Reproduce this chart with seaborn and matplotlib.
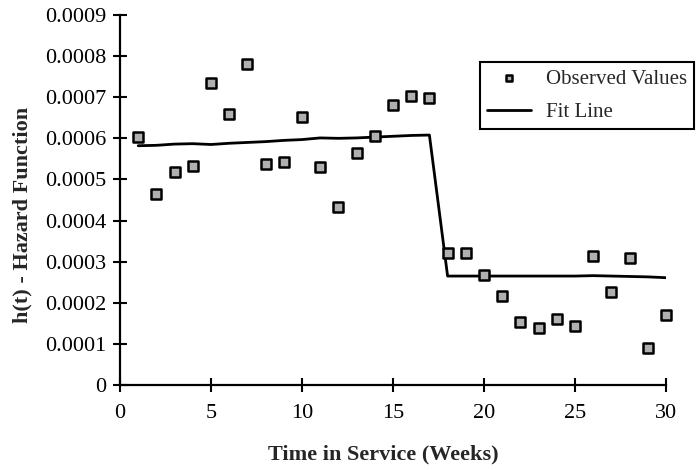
import numpy as np
import pandas as pd
import matplotlib
matplotlib.use("Agg")
import matplotlib.pyplot as plt
import seaborn as sns

weeks = list(range(1, 31))
observed = [0.000604, 0.000464, 0.000517, 0.000532, 0.000734, 0.000659, 0.000780, 0.000537,
            0.000543, 0.000651, 0.000531, 0.000434, 0.000564, 0.000606, 0.000680, 0.000703,
            0.000698, 0.000320, 0.000320, 0.000268, 0.000216, 0.000154, 0.000139, 0.000160,
            0.000144, 0.000315, 0.000227, 0.000310, 0.000089, 0.000170]
fit = [0.000582, 0.000583, 0.000586, 0.000587, 0.000585, 0.000588, 0.000590, 0.000592,
       0.000595, 0.000597, 0.000601, 0.000600, 0.000601, 0.000603, 0.000605, 0.000607,
       0.000608, 0.000265, 0.000265, 0.000265, 0.000265, 0.000265, 0.000265, 0.000265,
       0.000265, 0.000266, 0.000265, 0.000264, 0.000263, 0.000261]
x_ticks = [0, 5, 10, 15, 20, 25, 30]
y_ticks = [0, 0.0001, 0.0002, 0.0003, 0.0004, 0.0005, 0.0006, 0.0007, 0.0008, 0.0009]
y_tick_labels = ["0", "0.0001", "0.0002", "0.0003", "0.0004", "0.0005", "0.0006",
                 "0.0007", "0.0008", "0.0009"]

df = pd.DataFrame({"week": weeks, "observed": observed, "fit": fit})

sns.set_style("white")
plt.rcParams["font.family"] = ["Liberation Serif", "DejaVu Serif"]

fig = plt.figure(figsize=(6.98, 4.70), dpi=100)
ax = fig.add_axes([120 / 698, 85 / 470, 546 / 698, 370 / 470])

sns.scatterplot(data=df, x="week", y="observed", ax=ax, marker="s", s=50,
                color="#b0b0b0", edgecolor="black", linewidth=1.8,
                label="Observed Values", zorder=3, clip_on=False)
sns.lineplot(data=df, x="week", y="fit", ax=ax, color="black", linewidth=2,
             label="Fit Line", zorder=2)

ax.set_xlim(0, 30)
ax.set_ylim(0, 0.0009)
ax.set_xticks(x_ticks)
ax.set_xticklabels([str(t) for t in x_ticks])
ax.set_yticks(y_ticks)
ax.set_yticklabels(y_tick_labels)

for side in ["top", "right"]:
    ax.spines[side].set_visible(False)
for side in ["left", "bottom"]:
    ax.spines[side].set_linewidth(1.6)
    ax.spines[side].set_color("black")

ax.tick_params(axis="both", which="major", bottom=True, left=True,
               direction="inout", length=10, width=1.5,
               labelsize=16, colors="black")
ax.tick_params(axis="y", pad=5)
ax.tick_params(axis="x", pad=9)

ax.set_xlabel("Time in Service (Weeks)", fontsize=16, fontweight="bold")
ax.set_ylabel("h(t) - Hazard Function", fontsize=16, fontweight="bold")
ax.xaxis.label.set_va("center")
ax.yaxis.label.set_va("center")
ax.xaxis.set_label_coords(0.482, -0.189)
ax.yaxis.set_label_coords(-0.178, 0.46)

# legend kept inside the figure so its text is not cut at the right edge
handles, labels = ax.get_legend_handles_labels()
order = [labels.index("Observed Values"), labels.index("Fit Line")]
leg = ax.legend([handles[i] for i in order], [labels[i] for i in order],
                loc="upper left", bbox_to_anchor=(480 / 698, (470 - 62) / 470),
                bbox_transform=fig.transFigure, borderaxespad=0, fontsize=15,
                frameon=True, fancybox=False, shadow=False, handlelength=2.1,
                handletextpad=0.7, borderpad=0.35, labelspacing=0.65,
                markerscale=0.7)
leg.get_frame().set_edgecolor("black")
leg.get_frame().set_linewidth(1.5)
leg.get_frame().set_alpha(1)

fig.savefig("out.png", dpi=100)
